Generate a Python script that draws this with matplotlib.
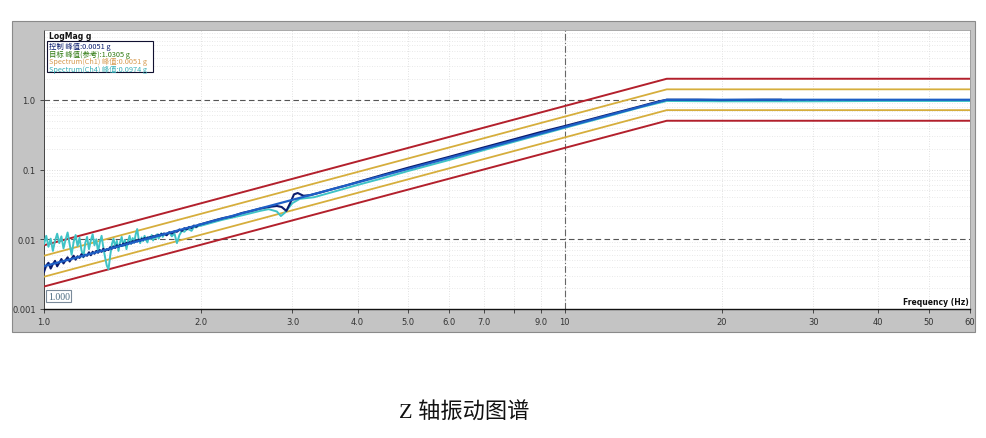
import matplotlib
matplotlib.use("Agg")
import matplotlib.pyplot as plt
from matplotlib.patches import Rectangle

# profile breakpoints (Hz, g)
prof_freq = [1.0, 15.7, 60.0]
ref_level = [0.0041, 1.0, 1.0]
abort_hi = [0.0082, 2.0, 2.0]
alarm_hi = [0.0058, 1.41, 1.41]
alarm_lo = [0.0029, 0.71, 0.71]
abort_lo = [0.0021, 0.5, 0.5]

# low-frequency grid used by both measured traces (1.00 .. 1.70 Hz, 0.01 steps)
low_freq = [1.00, 1.01, 1.02, 1.03, 1.04, 1.05, 1.06, 1.07, 1.08, 1.09,
            1.10, 1.11, 1.12, 1.13, 1.14, 1.15, 1.16, 1.17, 1.18, 1.19,
            1.20, 1.21, 1.22, 1.23, 1.24, 1.25, 1.26, 1.27, 1.28, 1.29,
            1.30, 1.31, 1.32, 1.33, 1.34, 1.35, 1.36, 1.37, 1.38, 1.39,
            1.40, 1.41, 1.42, 1.43, 1.44, 1.45, 1.46, 1.47, 1.48, 1.49,
            1.50, 1.51, 1.52, 1.53, 1.54, 1.55, 1.56, 1.57, 1.58, 1.59,
            1.60, 1.61, 1.62, 1.63, 1.64, 1.65, 1.66, 1.67, 1.68, 1.69, 1.70]

# control (navy)
ctrl_low = [0.0034, 0.0042, 0.0046, 0.0038, 0.0044, 0.0049, 0.0041, 0.0046, 0.0052, 0.0045,
            0.0050, 0.0055, 0.0048, 0.0053, 0.0058, 0.0051, 0.0057, 0.0054, 0.0061, 0.0056,
            0.0060, 0.0058, 0.0065, 0.0059, 0.0066, 0.0062, 0.0068, 0.0064, 0.0070, 0.0066,
            0.0073, 0.0068, 0.0072, 0.0070, 0.0077, 0.0073, 0.0079, 0.0075, 0.0082, 0.0078,
            0.0083, 0.0080, 0.0087, 0.0082, 0.0089, 0.0085, 0.0091, 0.0087, 0.0094, 0.0090,
            0.0096, 0.0093, 0.0099, 0.0095, 0.0101, 0.0098, 0.0104, 0.0100, 0.0106, 0.0103,
            0.0108, 0.0106, 0.0111, 0.0108, 0.0113, 0.0111, 0.0116, 0.0113, 0.0119, 0.0116,
            0.0121]
ctrl_freq_hi = [1.72, 1.74, 1.76, 1.78, 1.80, 1.82, 1.84, 1.86, 1.88, 1.90, 1.92, 1.94,
                1.96, 1.98, 2.00, 2.10, 2.20, 2.30, 2.40, 2.50, 2.60, 2.70, 2.80, 2.86,
                2.92, 2.97, 3.02, 3.07, 3.15, 3.25, 3.40, 3.60, 3.80, 4.00, 4.50, 5.00,
                5.50, 6.00, 7.00, 8.00, 9.00, 10.0, 11.0, 12.0, 13.0, 14.0, 15.0, 15.7,
                18.0, 20.0, 24.0, 26.0]
ctrl_val_hi = [0.0114, 0.0126, 0.0121, 0.0130, 0.0128, 0.0138, 0.0132, 0.0144, 0.0139, 0.0150,
               0.0145, 0.0157, 0.0151, 0.0161, 0.0164, 0.0182, 0.0200, 0.0214, 0.0238, 0.0255,
               0.0275, 0.0290, 0.0300, 0.0290, 0.0255, 0.0330, 0.0440, 0.0460, 0.0420, 0.0430,
               0.0470, 0.0530, 0.0590, 0.0660, 0.0850, 0.1060, 0.128, 0.152, 0.208, 0.272,
               0.345, 0.420, 0.505, 0.600, 0.700, 0.810, 0.930, 1.000, 1.00, 0.99, 1.00, 1.00]

# Spectrum(Ch4) (teal)
ch4_low = [0.0085, 0.0112, 0.0078, 0.0102, 0.0068, 0.0095, 0.0120, 0.0088, 0.0110, 0.0074,
           0.0098, 0.0125, 0.0085, 0.0060, 0.0092, 0.0115, 0.0080, 0.0105, 0.0070, 0.0055,
           0.0088, 0.0108, 0.0072, 0.0096, 0.0118, 0.0082, 0.0100, 0.0066, 0.0090, 0.0112,
           0.0076, 0.0055, 0.0042, 0.0037, 0.0058, 0.0085, 0.0102, 0.0078, 0.0095, 0.0068,
           0.0090, 0.0108, 0.0080, 0.0098, 0.0072, 0.0094, 0.0112, 0.0086, 0.0104, 0.0090,
           0.0118, 0.0140, 0.0100, 0.0088, 0.0106, 0.0094, 0.0112, 0.0098, 0.0090, 0.0108,
           0.0100, 0.0115, 0.0096, 0.0110, 0.0104, 0.0118, 0.0102, 0.0112, 0.0122, 0.0108,
           0.0116]
ch4_freq_hi = [1.72, 1.74, 1.76, 1.78, 1.80, 1.82, 1.84, 1.86, 1.88, 1.90, 1.92, 1.94,
               1.96, 1.98, 2.00, 2.20, 2.40, 2.60, 2.70, 2.80, 2.85, 2.90, 3.00, 3.10,
               3.30, 3.60, 4.00, 4.50, 5.00, 5.50, 6.00, 7.00, 8.00, 9.00, 10.0, 12.0,
               14.0, 15.7, 20.0, 30.0, 40.0, 60.0]
ch4_val_hi = [0.0118, 0.0125, 0.0110, 0.0122, 0.0088, 0.0115, 0.0132, 0.0128, 0.0140, 0.0138,
              0.0132, 0.0150, 0.0148, 0.0155, 0.0156, 0.0190, 0.0220, 0.0255, 0.0270, 0.0250,
              0.0215, 0.0240, 0.0330, 0.0380, 0.0400, 0.0480, 0.0600, 0.0760, 0.0950, 0.115,
              0.137, 0.190, 0.250, 0.318, 0.395, 0.570, 0.780, 0.960, 0.95, 0.95, 0.96, 0.96]

xticks = [1, 2, 3, 4, 5, 6, 7, 8, 9, 10, 20, 30, 40, 50, 60]
xlabels = ["1.0", "2.0", "3.0", "4.0", "5.0", "6.0", "7.0", "", "9.0", "10",
           "20", "30", "40", "50", "60"]
yticks = [0.001, 0.01, 0.1, 1.0]
ylabels = ["0.001", "0.01", "0.1", "1.0"]

W, H = 986, 439
fig = plt.figure(figsize=(W / 100, H / 100), dpi=100)
fig.patch.set_facecolor("white")

# grey instrument panel
fig.patches.append(Rectangle((12 / W, 1 - 333 / H), 963 / W, 311 / H,
                             transform=fig.transFigure, facecolor="#c4c4c4",
                             edgecolor="#8a8a8a", lw=0.8, zorder=-10))

ax = fig.add_axes([44 / W, 1 - 310 / H, 926 / W, 279 / H])
ax.set_zorder(1)
ax.set_facecolor("white")
ax.set_xscale("log")
ax.set_yscale("log")
ax.set_xlim(1, 60)
ax.set_ylim(0.001, 10)

# grids
for x in xticks:
    ax.axvline(x, color="#d8d8d8", lw=0.6, ls=(0, (1, 2)), zorder=1)
for dec in [0.001, 0.01, 0.1, 1.0]:
    for m in range(2, 10):
        ax.axhline(dec * m, color="#e2e2e2", lw=0.6, ls=(0, (1, 2)), zorder=1)
ax.axhline(0.1, color="#cfcfcf", lw=0.6, ls=(0, (1, 2)), zorder=1)
for yv in [0.01, 1.0]:
    ax.axhline(yv, color="#555555", lw=0.8, ls=(0, (5, 3)), zorder=1)
ax.axvline(10, color="#666666", lw=0.8, ls=(0, (6, 2, 1, 2)), zorder=1)

red = "#b3202c"
yel = "#d6ae3c"
ax.plot(prof_freq, abort_hi, color=red, lw=1.4, zorder=3)
ax.plot(prof_freq, abort_lo, color=red, lw=1.4, zorder=3)
ax.plot(prof_freq, alarm_hi, color=yel, lw=1.3, zorder=3)
ax.plot(prof_freq, alarm_lo, color=yel, lw=1.3, zorder=3)
ax.plot(low_freq + ch4_freq_hi, ch4_low + ch4_val_hi, color="#3fc3c6", lw=1.4, zorder=4)
ax.plot(low_freq + ctrl_freq_hi, ctrl_low + ctrl_val_hi, color="#0b1c6e", lw=1.5, zorder=5)
ax.plot(prof_freq, ref_level, color="#1e5fc6", lw=1.6, zorder=6)

ax.set_xticks(xticks)
ax.set_xticklabels(xlabels)
ax.set_yticks(yticks)
ax.set_yticklabels(ylabels)
ax.minorticks_off()
ax.tick_params(axis="both", labelsize=6, colors="#333333", length=3,
               direction="out", width=0.6, pad=3)
for s in ["top", "right"]:
    ax.spines[s].set_color("#9a9a9a")
    ax.spines[s].set_linewidth(0.6)
ax.spines["left"].set_color("#444444")
ax.spines["left"].set_linewidth(0.7)
ax.spines["bottom"].set_color("#111111")
ax.spines["bottom"].set_linewidth(1.0)

# panel annotations
ax.text(0.005, 0.997, "LogMag g", transform=ax.transAxes, fontsize=5.5,
        fontweight="bold", va="top", ha="left", color="#111111")
ax.text(0.999, 0.012, "Frequency (Hz)", transform=ax.transAxes, fontsize=5.5,
        fontweight="bold", va="bottom", ha="right", color="#111111")
ax.text(0.004, 0.045, "1.000", transform=ax.transAxes, fontsize=7,
        family="Liberation Serif", color="#4a6a80", va="center", ha="left",
        bbox=dict(boxstyle="square,pad=0.15", fc="white", ec="#7a8a9a", lw=0.8))

# legend box
cjk = ["Noto Sans CJK SC", "DejaVu Sans"]
fig.patches.append(Rectangle((47 / W, 1 - 73 / H), 106 / W, 31 / H,
                             transform=fig.transFigure, facecolor="white",
                             edgecolor="#101030", lw=0.8, zorder=5))
leg_lines = [("控制 峰值:0.0051 g", "#0b1c6e"),
             ("目标 峰值(参考):1.0305 g", "#2f7a10"),
             ("Spectrum(Ch1) 峰值:0.0051 g", "#d69a50"),
             ("Spectrum(Ch4) 峰值:0.0974 g", "#35b0b8")]
for i, (txt, c) in enumerate(leg_lines):
    fig.text(49 / W, 1 - (47 + 7.7 * i) / H, txt, fontsize=5.3, color=c,
             family=cjk, va="center", ha="left", zorder=6)

# caption
fig.text(464 / W, 1 - 413 / H, "Z 轴振动图谱", fontsize=16, color="#111111",
         family=["Liberation Serif", "Noto Sans CJK SC"], ha="center", va="center")

fig.savefig("out.png", dpi=100)
